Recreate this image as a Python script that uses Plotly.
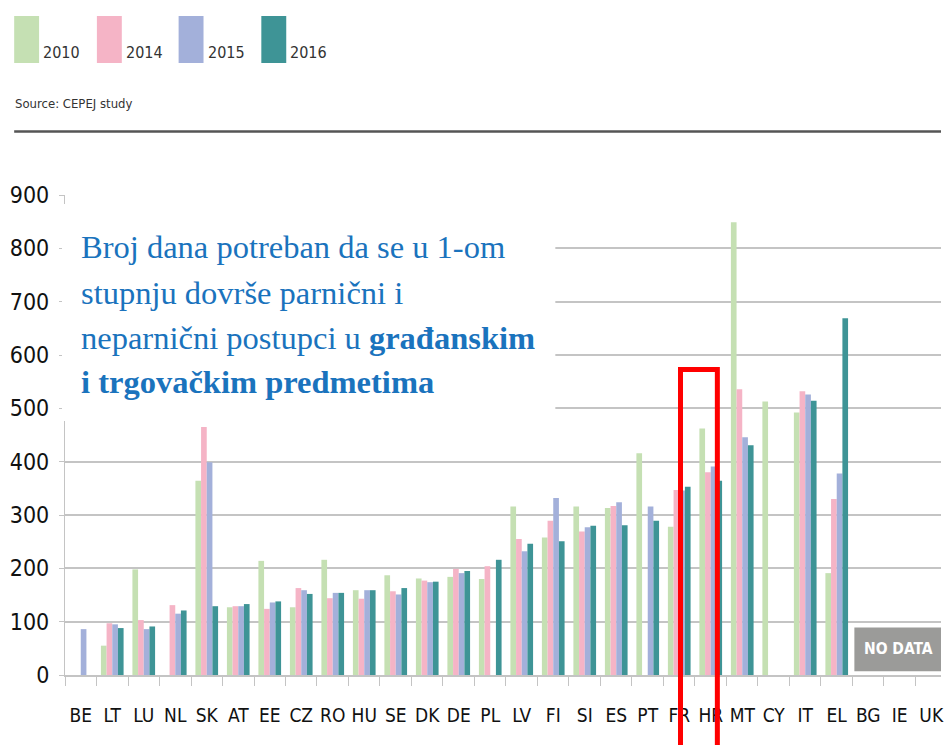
import plotly.graph_objects as go

# ---- data -------------------------------------------------------------
COUNTRIES = ["BE", "LT", "LU", "NL", "SK", "AT", "EE", "CZ", "RO", "HU",
             "SE", "DK", "DE", "PL", "LV", "FI", "SI", "ES", "PT", "FR",
             "HR", "MT", "CY", "IT", "EL", "BG", "IE", "UK"]

YEARS = ["2010", "2014", "2015", "2016"]

DAYS_2010 = [None, 55, 198, None, 364, 127, 214, 127, 216, 159,
             187, 181, 184, 180, 316, 258, 316, 313, 416, 278,
             462, 849, 513, 492, 191, None, None, None]
DAYS_2014 = [None, 97, 103, 131, 465, 129, 124, 163, 144, 143,
             157, 177, 199, 204, 255, 289, 269, 317, None, 347,
             380, 536, None, 532, 330, None, None, None]
DAYS_2015 = [86, 95, 86, 115, 399, 129, 136, 159, 154, 159,
             151, 174, 191, None, 232, 332, 277, 324, 316, 346,
             391, 446, None, 526, 378, None, None, None]
DAYS_2016 = [None, 88, 91, 121, 129, 133, 138, 152, 154, 159,
             163, 175, 195, 216, 246, 251, 280, 281, 289, 353,
             364, 431, None, 514, 669, None, None, None]

SERIES = [DAYS_2010, DAYS_2014, DAYS_2015, DAYS_2016]
COLORS = ["#c5e0b3", "#f5b4c6", "#a3b0da", "#3e9496"]

TITLE_LINES = [
    "Broj dana potreban da se u 1-om",
    "stupnju dovrše parnični i",
    "neparnični postupci u <b>građanskim</b>",
    "<b>i trgovačkim predmetima</b>",
]
SOURCE = "Source: CEPEJ study"
NO_DATA = "NO DATA"
HIGHLIGHT = "HR"

# ---- page geometry ----------------------------------------------------
W, H = 944, 745
ML, MR, MT, MB = 65, 0, 195, 70
PW, PH = W - ML - MR, H - MT - MB

NARROW = "DejaVu Sans Condensed, Liberation Sans Narrow, Arial Narrow, sans-serif"
SERIF = "Liberation Serif, Times New Roman, serif"
BLUE = "#1a73bd"
GRID = "#c4c4c4"


def px_x(px):
    return (px - ML) / PW


def px_y(py):
    return (H - MB - py) / PH


fig = go.Figure()
for name, vals, color in zip(YEARS, SERIES, COLORS):
    fig.add_bar(x=COUNTRIES, y=vals, name=name, marker_color=color,
                marker_line_width=0)

shapes = []
annotations = []

# white panel behind the title, hiding the grid beneath it
shapes.append(dict(type="rect", xref="paper", yref="paper",
                   x0=px_x(62), x1=px_x(557), y0=px_y(421), y1=px_y(204),
                   fillcolor="white", line_width=0, layer="above"))

title_y = [247, 293, 338, 382]
for line, ty in zip(TITLE_LINES, title_y):
    annotations.append(dict(text=line, xref="paper", yref="paper",
                            x=px_x(79), y=px_y(ty), xanchor="left",
                            yanchor="middle", showarrow=False,
                            font=dict(family=SERIF, size=32.5, color=BLUE)))

# legend: tall colour swatches with year labels
legend_x = [14, 97, 179, 262]
for lx, name, color in zip(legend_x, YEARS, COLORS):
    shapes.append(dict(type="rect", xref="paper", yref="paper",
                       x0=px_x(lx), x1=px_x(lx + 25), y0=px_y(63), y1=px_y(16),
                       fillcolor=color, line_width=0))
    annotations.append(dict(text=name, xref="paper", yref="paper",
                            x=px_x(lx + 27), y=px_y(52), xanchor="left",
                            yanchor="middle", showarrow=False,
                            font=dict(family=NARROW, size=16, color="#333333")))

annotations.append(dict(text=SOURCE, xref="paper", yref="paper",
                        x=px_x(13), y=px_y(103), xanchor="left",
                        yanchor="middle", showarrow=False,
                        font=dict(family=NARROW, size=13, color="#333333")))

# rule under the header
shapes.append(dict(type="line", xref="paper", yref="paper",
                   x0=px_x(14), x1=1.0, y0=px_y(131.5), y1=px_y(131.5),
                   line=dict(color="#555555", width=2.5)))

# grey "no data" block across the last countries
nd_start = COUNTRIES.index("BG") - 0.44
shapes.append(dict(type="rect", xref="x", yref="y",
                   x0=nd_start, x1=len(COUNTRIES) - 0.5, y0=7, y1=89,
                   fillcolor="#9b9b99", line_width=0, layer="above"))
annotations.append(dict(text="<b>" + NO_DATA + "</b>", xref="x", yref="y",
                        x=nd_start + 1.4, y=48, showarrow=False,
                        font=dict(family=NARROW, size=15.5, color="white")))

# red frame around Croatia
hi = COUNTRIES.index(HIGHLIGHT)
shapes.append(dict(type="rect", xref="x", yref="paper",
                   x0=hi - 0.96, x1=hi + 0.21, y0=-0.25, y1=px_y(369.5),
                   line=dict(color="#ff0000", width=5), fillcolor="rgba(0,0,0,0)",
                   layer="above"))

fig.update_layout(
    width=W, height=H,
    margin=dict(l=ML, r=MR, t=MT, b=MB, pad=0),
    paper_bgcolor="white", plot_bgcolor="white",
    barmode="group", bargap=0.28, bargroupgap=0,
    showlegend=False,
    shapes=shapes, annotations=annotations,
    xaxis=dict(type="category", categoryorder="array", categoryarray=COUNTRIES,
               range=[-0.5, len(COUNTRIES) - 0.5 - 6 / 31.6],
               showgrid=False, showline=True, linecolor=GRID, linewidth=1.5,
               ticks="outside", tickson="boundaries", ticklen=9,
               tickcolor=GRID, tickwidth=1.2, ticklabelstandoff=22,
               tickangle=0,
               tickfont=dict(family=NARROW, size=19, color="#111111")),
    yaxis=dict(range=[0, 900], dtick=100, showgrid=True, gridcolor=GRID,
               gridwidth=2, zeroline=False, showline=True, linecolor=GRID,
               linewidth=1.2, ticks="outside", ticklen=5, tickcolor=GRID,
               ticklabelstandoff=5,
               tickfont=dict(family=NARROW, size=23, color="#111111")),
)

fig.write_html("out.html")
